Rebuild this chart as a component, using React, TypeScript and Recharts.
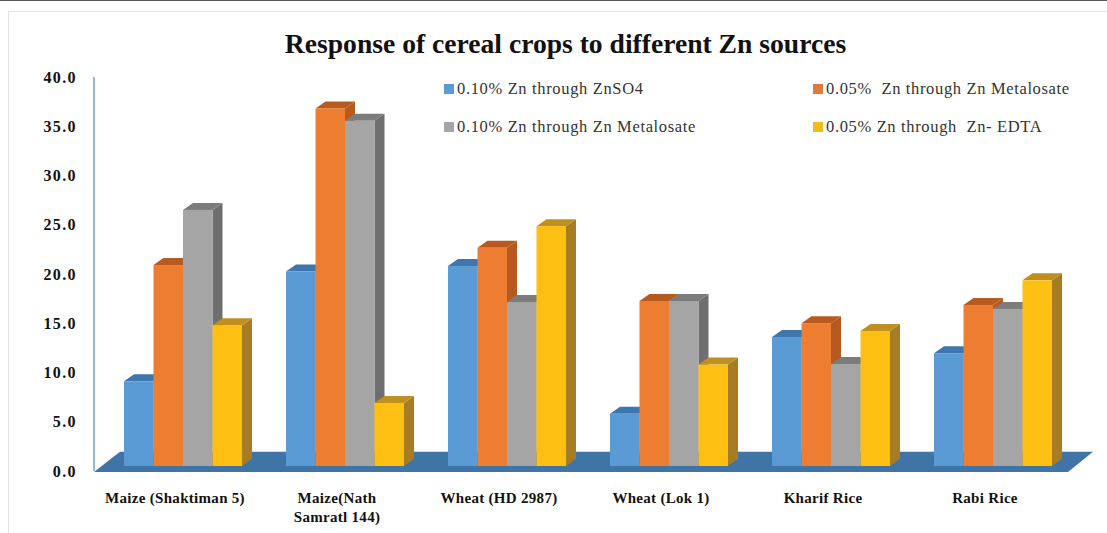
import { BarChart, Bar, XAxis, YAxis, Legend, ReferenceArea } from "recharts";

const FONT = "'Liberation Serif', serif";

const categories = [
  "Maize (Shaktiman 5)",
  "Maize(Nath\nSamratl 144)",
  "Wheat (HD 2987)",
  "Wheat (Lok 1)",
  "Kharif Rice",
  "Rabi Rice",
];
const znSo4 = [8.6, 19.75, 20.3, 5.3, 13.1, 11.45];
const metalosate05 = [20.4, 36.3, 22.15, 16.75, 14.5, 16.35];
const metalosate10 = [26.0, 35.05, 16.65, 16.75, 10.35, 15.95];
const edta = [14.3, 6.4, 24.35, 10.3, 13.7, 18.85];
const yTicks = [0, 5, 10, 15, 20, 25, 30, 35, 40];

const data = categories.map((name, i) => ({
  name,
  znSo4: znSo4[i],
  metalosate05: metalosate05[i],
  metalosate10: metalosate10[i],
  edta: edta[i],
}));

const series = [
  { key: "znSo4", label: "0.10% Zn through ZnSO4", fill: "#5B9BD5", top: "#3E76AE", side: "#3E76AE", swatch: "#5B9BD5", lx: 444, ly: 89 },
  { key: "metalosate05", label: "0.05%  Zn through Zn Metalosate", fill: "#ED7D31", top: "#B85A1F", side: "#B85A1F", swatch: "#DE7A3A", lx: 813, ly: 89 },
  { key: "metalosate10", label: "0.10% Zn through Zn Metalosate", fill: "#A5A5A5", top: "#7C7C7C", side: "#6E6E6E", swatch: "#A5A5A5", lx: 444, ly: 127 },
  { key: "edta", label: "0.05% Zn through  Zn- EDTA", fill: "#FDBF12", top: "#BF9020", side: "#A67C24", swatch: "#F0BC1A", lx: 813, ly: 127 },
];

const DX = 10;
const DY = 7;
const LIFT = 5;

function Bar3D(props: any, s: (typeof series)[number]) {
  const { x, y, width, height } = props;
  const fy = y - LIFT;
  return (
    <g>
      <polygon
        points={`${x + width},${fy} ${x + width + DX},${fy - DY} ${x + width + DX},${fy + height - DY} ${x + width},${fy + height}`}
        fill={s.side}
      />
      <polygon
        points={`${x},${fy} ${x + DX},${fy - DY} ${x + width + DX},${fy - DY} ${x + width},${fy}`}
        fill={s.top}
      />
      <rect x={x} y={fy} width={width} height={height} fill={s.fill} />
    </g>
  );
}

// blue floor under the bars, skewed like the 3D base of the original
function Floor(props: any) {
  const { x, y, width, height } = props;
  const b = y + height + 1;
  return (
    <polygon
      points={`${x - 8},${b} ${x + width - 6},${b} ${x + width + 19},${y} ${x + 18},${y}`}
      fill="#3F74A6"
    />
  );
}

function CategoryTick({ x, y, payload }: any) {
  const lines = String(payload.value).split("\n");
  return (
    <text x={x - 8} y={y} textAnchor="middle" fontFamily={FONT} fontWeight="bold" fontSize={15} letterSpacing={0.3} fill="#111">
      {lines.map((l: string, i: number) => (
        <tspan key={i} x={x - 8} y={503 + i * 19}>
          {l}
        </tspan>
      ))}
    </text>
  );
}

function LegendBox() {
  return (
    <div>
      {series.map((s) => (
        <div key={s.key}>
          <div style={{ position: "absolute", left: s.lx, top: s.ly - 5, width: 10, height: 10, background: s.swatch }} />
          <div
            style={{
              position: "absolute",
              left: s.lx + 13,
              top: s.ly - 10,
              fontFamily: FONT,
              fontSize: 16.5,
              lineHeight: "20px",
              letterSpacing: 0.65,
              color: "#333",
              whiteSpace: "pre",
            }}
          >
            {s.label}
          </div>
        </div>
      ))}
    </div>
  );
}

export default function App() {
  return (
    <div style={{ position: "absolute", left: 0, top: 0, width: 1107, height: 533, background: "#fff", overflow: "hidden" }}>
      <div style={{ position: "absolute", left: 0, top: 0, width: 1107, height: 1, background: "#555" }} />
      <div style={{ position: "absolute", left: 8, top: 11, width: 1099, height: 1, background: "#e4e4e4" }} />
      <div style={{ position: "absolute", left: 8, top: 11, width: 1, height: 522, background: "#e4e4e4" }} />
      <div
        style={{
          position: "absolute",
          left: 0,
          width: 1131,
          top: 28,
          textAlign: "center",
          fontFamily: FONT,
          fontWeight: "bold",
          fontSize: 27.6,
          lineHeight: "32px",
          color: "#111",
        }}
      >
        Response of cereal crops to different Zn sources
      </div>
      <BarChart
        width={1107}
        height={533}
        data={data}
        barSize={29.5}
        barGap={0}
        margin={{ top: 77, right: 25, bottom: 0, left: 0 }}
        style={{ position: "absolute", left: 0, top: 0 }}
      >
        <XAxis dataKey="name" height={62} axisLine={false} tickLine={false} interval={0} padding={{ left: 8, right: 8 }} tick={CategoryTick} />
        <YAxis
          width={94}
          domain={[0, 40]}
          ticks={yTicks}
          interval={0}
          tickFormatter={(v: number) => v.toFixed(1)}
          axisLine={{ stroke: "#6FA3C7", strokeWidth: 1.5 }}
          tickLine={false}
          tickMargin={11}
          tick={{ fontFamily: FONT, fontWeight: "bold", fontSize: 16, letterSpacing: 1.4, fill: "#111" }}
        />
        <ReferenceArea y1={0} y2={1.95} ifOverflow="visible" shape={Floor} />
        <Legend content={LegendBox} wrapperStyle={{ left: 0, top: 0, width: 0, height: 0 }} />
        {series.map((s) => (
          <Bar key={s.key} dataKey={s.key} isAnimationActive={false} shape={(p: any) => Bar3D(p, s)} />
        ))}
      </BarChart>
    </div>
  );
}
